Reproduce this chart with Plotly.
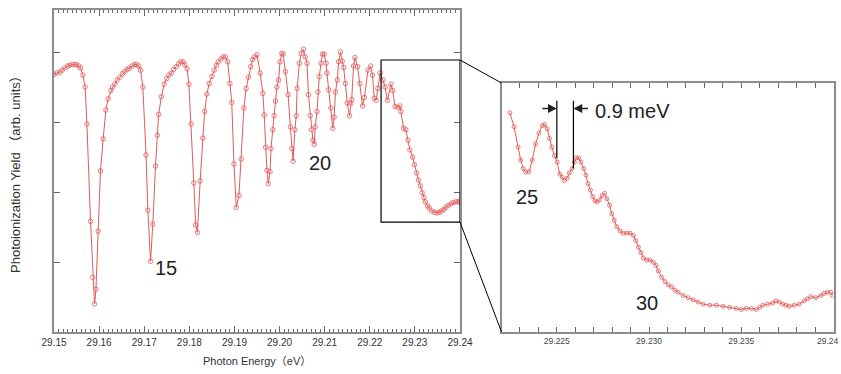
import plotly.graph_objects as go

# ---------------- data ----------------
main_energy = [
    29.1500, 29.1506, 29.1513, 29.1518, 29.1524, 29.1530, 29.1535, 29.1541, 29.1546, 29.1550,
    29.1555, 29.1559, 29.1564, 29.1569, 29.1573, 29.1581, 29.1586, 29.1590, 29.1593, 29.1598,
    29.1603, 29.1609, 29.1615, 29.1620, 29.1626, 29.1630, 29.1635, 29.1640, 29.1646, 29.1652,
    29.1657, 29.1662, 29.1667, 29.1673, 29.1678, 29.1683, 29.1688, 29.1692, 29.1697, 29.1704,
    29.1708, 29.1714, 29.1719, 29.1725, 29.1729, 29.1732, 29.1738, 29.1744, 29.1750, 29.1755,
    29.1760, 29.1765, 29.1771, 29.1776, 29.1781, 29.1786, 29.1790, 29.1795, 29.1799, 29.1804,
    29.1810, 29.1814, 29.1818, 29.1824, 29.1830, 29.1834, 29.1839, 29.1844, 29.1850, 29.1855,
    29.1860, 29.1864, 29.1870, 29.1875, 29.1880, 29.1885, 29.1890, 29.1894, 29.1899, 29.1904,
    29.1910, 29.1915, 29.1921, 29.1926, 29.1931, 29.1936, 29.1940, 29.1944, 29.1950, 29.1957,
    29.1963, 29.1966, 29.1969, 29.1972, 29.1975, 29.1979, 29.1981, 29.1985, 29.1988, 29.1991,
    29.1994, 29.1998, 29.2001, 29.2005, 29.2008, 29.2013, 29.2019, 29.2024, 29.2027, 29.2030,
    29.2034, 29.2037, 29.2039, 29.2044, 29.2048, 29.2053, 29.2057, 29.2061, 29.2064, 29.2068,
    29.2071, 29.2074, 29.2077, 29.2079, 29.2083, 29.2085, 29.2088, 29.2092, 29.2095, 29.2099,
    29.2103, 29.2105, 29.2109, 29.2114, 29.2118, 29.2121, 29.2124, 29.2128, 29.2131, 29.2135,
    29.2139, 29.2142, 29.2146, 29.2150, 29.2155, 29.2158, 29.2160, 29.2164, 29.2167, 29.2173,
    29.2178, 29.2184, 29.2188, 29.2196, 29.2202, 29.2206, 29.2210, 29.2214, 29.2218, 29.2223,
    29.2229, 29.2234, 29.2239, 29.2247, 29.2251, 29.2256, 29.2262, 29.2267, 29.2269, 29.2275,
    29.2280, 29.2285, 29.2289, 29.2295, 29.2299, 29.2304, 29.2308, 29.2312, 29.2316, 29.2320,
    29.2323, 29.2328, 29.2332, 29.2337, 29.2343, 29.2349, 29.2354, 29.2359, 29.2364, 29.2369,
    29.2374, 29.2380, 29.2385, 29.2391, 29.2396, 29.2400,
]
main_yield = [
    3.68, 3.70, 3.71, 3.74, 3.77, 3.80, 3.81, 3.82, 3.82, 3.82,
    3.80, 3.77, 3.67, 3.50, 2.97, 1.58, 0.78, 0.40, 0.61, 1.44,
    2.30, 2.76, 3.17, 3.33, 3.45, 3.50, 3.54, 3.60, 3.64, 3.69,
    3.72, 3.75, 3.77, 3.80, 3.82, 3.82, 3.80, 3.74, 3.50, 2.53,
    1.74, 1.01, 1.54, 2.37, 2.81, 3.11, 3.36, 3.54, 3.62, 3.67,
    3.70, 3.75, 3.79, 3.83, 3.86, 3.86, 3.82, 3.76, 3.54, 2.97,
    2.13, 1.53, 1.42, 2.16, 2.77, 3.15, 3.40, 3.55, 3.65, 3.74,
    3.81, 3.86, 3.90, 3.93, 3.93, 3.86, 3.55, 3.28, 2.40, 1.78,
    1.95, 2.47, 3.20, 3.48, 3.64, 3.79, 3.89, 3.93, 3.96, 3.70,
    3.41, 3.10, 2.64, 2.31, 2.12, 2.29, 2.62, 2.89, 3.09, 3.30,
    3.50, 3.60, 3.86, 3.98, 3.97, 3.72, 3.39, 2.93, 2.62, 2.44,
    2.89, 3.09, 3.48, 3.84, 3.98, 4.04, 3.93, 3.84, 3.39, 3.09,
    2.89, 2.74, 2.68, 2.93, 3.15, 3.43, 3.65, 3.84, 3.97, 3.97,
    3.84, 3.70, 3.46, 3.20, 2.91, 3.07, 3.43, 3.60, 3.86, 4.00,
    3.87, 3.78, 3.55, 3.27, 3.09, 3.27, 3.32, 3.80, 3.92, 3.79,
    3.55, 3.23, 3.35, 3.74, 3.80, 3.67, 3.34, 3.31, 3.48, 3.70,
    3.60, 3.50, 3.31, 3.54, 3.45, 3.22, 3.21, 3.23, 3.15, 2.91,
    2.89, 2.74, 2.60, 2.50, 2.39, 2.27, 2.17, 2.09, 1.99, 1.92,
    1.86, 1.80, 1.77, 1.73, 1.71, 1.70, 1.71, 1.73, 1.75, 1.78,
    1.81, 1.83, 1.85, 1.86, 1.86, 1.86,
]

inset_energy = [
    29.22245, 29.22268, 29.22290, 29.22304, 29.22318, 29.22331, 29.22349, 29.22367, 29.22385, 29.22403,
    29.22421, 29.22433, 29.22448, 29.22460, 29.22473, 29.22487, 29.22502, 29.22516, 29.22529, 29.22541,
    29.22556, 29.22568, 29.22583, 29.22595, 29.22606, 29.22619, 29.22631, 29.22646, 29.22658, 29.22669,
    29.22682, 29.22694, 29.22707, 29.22719, 29.22732, 29.22746, 29.22759, 29.22771, 29.22786, 29.22798,
    29.22811, 29.22825, 29.22843, 29.22861, 29.22879, 29.22897, 29.22915, 29.22928, 29.22942, 29.22955,
    29.22969, 29.22987, 29.23005, 29.23023, 29.23038, 29.23050, 29.23068, 29.23086, 29.23104, 29.23122,
    29.23140, 29.23158, 29.23185, 29.23212, 29.23239, 29.23266, 29.23293, 29.23329, 29.23365, 29.23401,
    29.23437, 29.23473, 29.23500, 29.23527, 29.23554, 29.23581, 29.23599, 29.23617, 29.23643, 29.23670,
    29.23688, 29.23706, 29.23724, 29.23742, 29.23760, 29.23787, 29.23814, 29.23841, 29.23859, 29.23877,
    29.23904, 29.23931, 29.23949, 29.23967, 29.23985, 29.23994,
]
inset_yield = [
    3.61, 3.48, 3.29, 3.17, 3.09, 3.06, 3.06, 3.17, 3.32, 3.42,
    3.49, 3.50, 3.46, 3.37, 3.29, 3.21, 3.15, 3.04, 3.01, 2.98,
    3.00, 3.05, 3.09, 3.15, 3.19, 3.19, 3.15, 3.09, 3.03, 2.95,
    2.89, 2.83, 2.79, 2.78, 2.80, 2.84, 2.86, 2.81, 2.75, 2.67,
    2.61, 2.55, 2.51, 2.49, 2.49, 2.49, 2.47, 2.42, 2.36, 2.31,
    2.26, 2.24, 2.24, 2.22, 2.19, 2.14, 2.08, 2.04, 2.01, 1.99,
    1.96, 1.94, 1.91, 1.89, 1.87, 1.85, 1.83, 1.82, 1.82, 1.81,
    1.80, 1.79, 1.78, 1.79, 1.79, 1.78, 1.80, 1.82, 1.83, 1.84,
    1.86, 1.85, 1.83, 1.82, 1.81, 1.82, 1.83, 1.86, 1.88, 1.90,
    1.89, 1.91, 1.93, 1.94, 1.94, 1.91,
]

main_ticks = [29.15, 29.16, 29.17, 29.18, 29.19, 29.20, 29.21, 29.22, 29.23, 29.24]
main_tick_labels = ["29.15", "29.16", "29.17", "29.18", "29.19", "29.20", "29.21", "29.22", "29.23", "29.24"]
inset_ticks = [29.225, 29.230, 29.235, 29.240]
inset_tick_labels = ["29.225", "29.230", "29.235", ""]
inset_last_label = "29.24"   # drawn flush with the right edge of the page

# zoom window (in main-plot units) shown by the inset
zoom_x = [29.2225, 29.24]
zoom_y = [1.571, 3.886]

# series labels
peak_labels = [("15", 29.1748, 0.91, "x", "y"), ("20", 29.2090, 2.41, "x", "y"),
               ("25", 29.22337, 2.824, "x2", "y2"), ("30", 29.22989, 1.838, "x2", "y2")]
gap_x = [29.2250, 29.2259]

# ---------------- figure ----------------
W, H = 841, 374
RED = "#e25b5b"
main_dom_x = [54 / W, 460 / W]
main_dom_y = [1 - 332 / H, 1 - 10 / H]
ins_dom_x = [501.5 / W, 833.5 / W]
ins_dom_y = [1 - 332 / H, 1 - 83 / H]

fig = go.Figure()
fig.add_trace(go.Scatter(
    x=main_energy, y=main_yield, mode="lines+markers", xaxis="x", yaxis="y",
    line=dict(color=RED, width=1),
    marker=dict(symbol="circle-open", size=4.5, color=RED, line=dict(width=0.8)),
    showlegend=False, hoverinfo="skip"))
fig.add_trace(go.Scatter(
    x=inset_energy, y=inset_yield, mode="lines+markers", xaxis="x2", yaxis="y2",
    line=dict(color=RED, width=1),
    marker=dict(symbol="circle-open", size=4, color=RED, line=dict(width=0.8)),
    showlegend=False, hoverinfo="skip"))

FRAME = "#8c8c8c"
SANS = "Liberation Sans, Arial, sans-serif"
TICKFONT = dict(family=SANS, size=10, color="#333333")
INSET_TICKFONT = dict(family=SANS, size=8.5, color="#444")

fig.update_layout(
    width=W, height=H,
    margin=dict(l=0, r=0, t=0, b=0, autoexpand=False),
    paper_bgcolor="white", plot_bgcolor="white",
    xaxis=dict(domain=main_dom_x, anchor="y", range=[29.15, 29.24], automargin=False,
               tickvals=main_ticks, ticktext=main_tick_labels,
               ticks="inside", ticklen=6, tickcolor="#666", tickwidth=1,
               minor=dict(dtick=0.001, ticks="inside", ticklen=3, tickcolor="#666"),
               showline=True, linecolor=FRAME, linewidth=1.5, mirror="ticks",
               showgrid=False, zeroline=False, tickfont=TICKFONT),
    yaxis=dict(domain=main_dom_y, anchor="x", range=[0, 4.6], automargin=False,
               tickvals=[1, 2, 3, 4], showticklabels=False,
               ticks="inside", ticklen=6, tickcolor="#666",
               showline=True, linecolor=FRAME, linewidth=1.5, mirror="ticks",
               showgrid=False, zeroline=False),
    xaxis2=dict(domain=ins_dom_x, anchor="y2", range=[29.222, 29.240], automargin=False,
                tickvals=inset_ticks, ticktext=inset_tick_labels,
                ticks="inside", ticklen=5, tickcolor="#666",
                minor=dict(dtick=0.001, ticks="inside", ticklen=5, tickcolor="#666"),
                showline=True, linecolor=FRAME, linewidth=1.5, mirror="ticks",
                showgrid=False, zeroline=False, tickfont=INSET_TICKFONT),
    yaxis2=dict(domain=ins_dom_y, anchor="x2", range=zoom_y, automargin=False,
                showticklabels=False, ticks="",
                showline=True, linecolor=FRAME, linewidth=1.5, mirror=True,
                showgrid=False, zeroline=False),
)

# last inset tick label, kept inside the page
fig.add_annotation(xref="paper", yref="paper", x=1.0, y=1 - 341 / H, xanchor="right", yanchor="middle",
                   text=inset_last_label, showarrow=False, font=INSET_TICKFONT)

# axis titles
TITLEFONT = dict(family="Liberation Sans, Noto Sans CJK JP, sans-serif", size=11, color="#333")
fig.add_annotation(xref="paper", yref="paper", x=(main_dom_x[0] + main_dom_x[1]) / 2, y=1 - 361 / H,
                   xanchor="center", yanchor="middle",
                   text="Photon Energy（eV）", showarrow=False, font=TITLEFONT)
fig.add_annotation(xref="paper", yref="paper", x=15 / W, y=(main_dom_y[0] + main_dom_y[1]) / 2,
                   xanchor="center", yanchor="middle",
                   text="Photoionization Yield （arb. units）", textangle=-90, showarrow=False,
                   font=dict(family="Liberation Sans, Noto Sans CJK JP, sans-serif", size=13, color="#333"))

# zoom rectangle on main plot
fig.add_shape(type="rect", xref="x", yref="y", x0=zoom_x[0], x1=zoom_x[1], y0=zoom_y[0], y1=zoom_y[1],
              line=dict(color="black", width=1.2))
# connectors (paper coords derived from domains)
box_right = main_dom_x[1]
top_y = main_dom_y[0] + (zoom_y[1] - 0) / 4.6 * (main_dom_y[1] - main_dom_y[0])
bot_y = main_dom_y[0] + (zoom_y[0] - 0) / 4.6 * (main_dom_y[1] - main_dom_y[0])
fig.add_shape(type="line", xref="paper", yref="paper", x0=box_right, y0=top_y,
              x1=ins_dom_x[0], y1=ins_dom_y[1], line=dict(color="black", width=1))
fig.add_shape(type="line", xref="paper", yref="paper", x0=box_right, y0=bot_y,
              x1=ins_dom_x[0], y1=ins_dom_y[0], line=dict(color="black", width=1))

# 0.9 meV markers
fig.add_shape(type="line", xref="x2", yref="y2", x0=gap_x[0], x1=gap_x[0], y0=3.184, y1=3.72,
              line=dict(color="black", width=1.2))
fig.add_shape(type="line", xref="x2", yref="y2", x0=gap_x[1], x1=gap_x[1], y0=3.091, y1=3.72,
              line=dict(color="black", width=1.2))
fig.add_annotation(xref="x2", yref="y2", x=gap_x[0], y=3.649, ax=-16, ay=0, text="",
                   showarrow=True, arrowhead=2, arrowsize=1.1, arrowwidth=1.6, arrowcolor="#222")
fig.add_annotation(xref="x2", yref="y2", x=gap_x[1], y=3.649, ax=16, ay=0, text="",
                   showarrow=True, arrowhead=2, arrowsize=1.1, arrowwidth=1.6, arrowcolor="#222")
fig.add_annotation(xref="x2", yref="y2", x=gap_x[1], y=3.649, xshift=20, yshift=-3, xanchor="left",
                   text="0.9 meV", showarrow=False,
                   font=dict(family=SANS, size=20, color="#222"))

for txt, xx, yy, xr, yr in peak_labels:
    fig.add_annotation(xref=xr, yref=yr, x=xx, y=yy, text=txt, showarrow=False,
                       font=dict(family=SANS, size=20, color="#222"))

fig.write_html("out.html", config={"displayModeBar": False},
               post_script="document.body.style.margin='0';document.body.style.padding='0';"
                           "document.documentElement.style.overflow='hidden';")
